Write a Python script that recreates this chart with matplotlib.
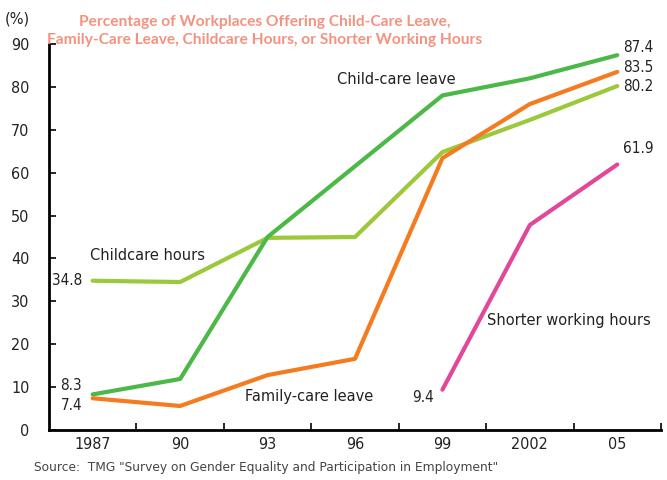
import matplotlib.pyplot as plt

years = ["1987", "90", "93", "96", "99", "2002", "05"]
child_care_leave = [8.3, 11.9, 45.0, 61.5, 78.0, 82.0, 87.4]
family_care_leave = [7.4, 5.6, 12.8, 16.6, 63.4, 76.0, 83.5]
childcare_hours = [34.8, 34.5, 44.8, 45.0, 64.8, 72.3, 80.2]
shorter_hours = [None, None, None, None, 9.4, 47.8, 61.9]

title = ("Percentage of Workplaces Offering Child-Care Leave,\n"
         "Family-Care Leave, Childcare Hours, or Shorter Working Hours")
source = 'Source:  TMG "Survey on Gender Equality and Participation in Employment"'

green = "#4cb848"
orange = "#f47b20"
lime = "#9cc83c"
pink = "#e2489a"
txt = "#222222"
num = dict(family="DejaVu Sans", fontstretch="condensed", color=txt)

fig = plt.figure(figsize=(6.67, 4.8), dpi=100)
ax = fig.add_axes([49 / 667, 50 / 480, 612 / 667, 386 / 480])

x = list(range(len(years)))
ax.plot(x, child_care_leave, color=green, lw=3, solid_capstyle="round", zorder=3)
ax.plot(x, family_care_leave, color=orange, lw=3, solid_capstyle="round", zorder=4)
ax.plot(x, childcare_hours, color=lime, lw=3, solid_capstyle="round", zorder=2)
xs = [i for i, v in zip(x, shorter_hours) if v is not None]
ys = [v for v in shorter_hours if v is not None]
ax.plot(xs, ys, color=pink, lw=3, solid_capstyle="round", zorder=3)

ax.set_xlim(-0.5, 6.5)
ax.set_ylim(0, 90)
ax.set_yticks(range(0, 91, 10))
ax.set_xticks([i + 0.5 for i in range(7)])
ax.set_xticklabels([])
for i, lab in enumerate(years):
    ax.text(i, -1.6, lab, ha="center", va="top", fontsize=11.5, **num)
ax.tick_params(axis="x", direction="in", length=5, width=1.2)
ax.tick_params(axis="y", direction="in", length=5, width=1.2, pad=14,
               labelsize=11.5, labelcolor=txt)
for t in ax.get_yticklabels():
    t.set_fontstretch("condensed")
for s in ["top", "right"]:
    ax.spines[s].set_visible(False)
for s in ["left", "bottom"]:
    ax.spines[s].set_linewidth(2)

fs = 10.5
nfs = 11
ax.text(-0.12, 10.3, "8.3", ha="right", va="center", fontsize=nfs, **num)
ax.text(-0.12, 5.8, "7.4", ha="right", va="center", fontsize=nfs, **num)
ax.text(-0.12, childcare_hours[0], "34.8", ha="right", va="center", fontsize=nfs, **num)
ax.text(3.9, 7.5, "9.4", ha="right", va="center", fontsize=nfs, **num)
ax.text(6.07, 89.3, "87.4", ha="left", va="center", fontsize=nfs, **num)
ax.text(6.07, 84.6, "83.5", ha="left", va="center", fontsize=nfs, **num)
ax.text(6.07, 80.0, "80.2", ha="left", va="center", fontsize=nfs, **num)
ax.text(6.07, 65.7, "61.9", ha="left", va="center", fontsize=nfs, **num)

ax.text(3.47, 81.8, "Child-care leave", ha="center", va="center", fontsize=fs, color=txt)
ax.text(0.63, 40.7, "Childcare hours", ha="center", va="center", fontsize=fs, color=txt)
ax.text(2.47, 7.8, "Family-care leave", ha="center", va="center", fontsize=fs, color=txt)
ax.text(5.45, 25.5, "Shorter working hours", ha="center", va="center", fontsize=fs, color=txt)

fig.text(17 / 667, 1 - 19 / 480, "(%)", ha="center", va="center", fontsize=10.5, color=txt)
fig.text(265 / 667, 1 - 31 / 480, title, ha="center", va="center", fontsize=11.2,
         fontweight="bold", color="#f5927f", family="Lato", linespacing=1.45)
fig.text(34 / 667, 1 - 468 / 480, source, ha="left", va="center", fontsize=8.8,
         color="#444444")

fig.savefig("out.png", dpi=100)
